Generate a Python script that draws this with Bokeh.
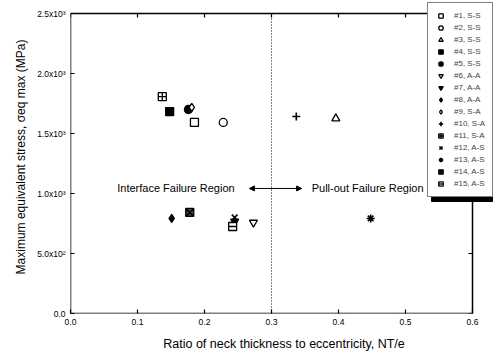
from bokeh.plotting import figure
from bokeh.models import Legend, LegendItem, FixedTicker, Range1d, Arrow, NormalHead
from bokeh.core.properties import value
from bokeh.embed import file_html
from bokeh.resources import INLINE

labels = ["#1, S-S", "#2, S-S", "#3, S-S", "#4, S-S", "#5, S-S", "#6, A-A", "#7, A-A",
          "#8, A-A", "#9, S-A", "#10, S-A", "#11, S-A", "#12, A-S", "#13, A-S",
          "#14, A-S", "#15, A-S"]
ratio = [0.185, 0.228, 0.396, 0.148, 0.176, 0.273, 0.245, 0.151, 0.181, 0.337,
         0.137, 0.245, 0.448, 0.178, 0.242]
stress = [1592, 1592, 1625, 1683, 1700, 758, 767, 792, 1717, 1642, 1808, 800, 792, 842, 725]
x_ticks = [0.0, 0.1, 0.2, 0.3, 0.4, 0.5, 0.6]
x_tick_labels = ["0.0", "0.1", "0.2", "0.3", "0.4", "0.5", "0.6"]
y_ticks = [0, 500, 1000, 1500, 2000, 2500]
y_tick_labels = ["0.0", "5.0x10²", "1.0x10³", "1.5x10³", "2.0x10³", "2.5x10³"]
boundary = 0.3

styles = [("square", "white"), ("circle", "white"), ("triangle", "white"),
          ("square", "black"), ("circle", "black"), ("inverted_triangle", "white"),
          ("inverted_triangle", "black"), ("diamond", "black"), ("diamond", "white"),
          ("cross", "white"), ("square_cross", "white"), ("x", "white"),
          ("asterisk", "white"), ("square_x", "#444444"), ("square", "white")]

FONT = "Liberation Sans"

# layout geometry (pixels)
W, H = 497, 360
LEFT, BOTTOM, TOP_AXIS_PX = 70, 47, 13
frame_w = W - LEFT                 # frame extends to the right edge (legend overhangs axes)
frame_h = H - BOTTOM               # frame extends to the top edge
x_max, y_max = x_ticks[-1], y_ticks[-1]
px_per_x = 402 / x_max             # axis box 402 px wide
px_per_y = (frame_h - TOP_AXIS_PX) / y_max

p = figure(width=W, height=H, output_backend="svg", toolbar_location=None,
           x_range=Range1d(0, frame_w / px_per_x), y_range=Range1d(0, frame_h / px_per_y),
           min_border_left=LEFT, min_border_right=0, min_border_top=0,
           min_border_bottom=BOTTOM)
p.xgrid.visible = False
p.ygrid.visible = False
p.outline_line_color = None

for ax in (p.xaxis[0], p.yaxis[0]):
    ax.major_tick_in = 4
    ax.major_tick_out = 0
    ax.minor_tick_line_color = None
    ax.axis_line_color = None
    ax.major_tick_line_width = 1.2
    ax.major_label_text_font = FONT
    ax.major_label_text_font_size = "8.5px"
    ax.major_label_text_color = "black"
    ax.axis_label_text_font = FONT
    ax.axis_label_text_font_style = "normal"
    ax.axis_label_text_color = "black"

p.xaxis.ticker = FixedTicker(ticks=x_ticks)
p.xaxis.major_label_overrides = {t: l for t, l in zip(x_ticks, x_tick_labels)}
p.yaxis.ticker = FixedTicker(ticks=y_ticks)
p.yaxis.major_label_overrides = {t: l for t, l in zip(y_ticks, y_tick_labels)}
p.xaxis.axis_label = "Ratio of neck thickness to eccentricity, NT/e"
p.yaxis.axis_label = "Maximum equivalent stress, σeq max (MPa)"
p.xaxis.axis_label_text_font_size = "12.5px"
p.yaxis.axis_label_text_font_size = "12px"
p.xaxis.axis_label_standoff = 9
p.yaxis.axis_label_standoff = 6

# box around the axes
p.segment(x0=[0, x_max, 0, 0], y0=[0, 0, 0, y_max], x1=[0, x_max, x_max, x_max],
          y1=[y_max, y_max, 0, y_max], line_color="black", line_width=1.5)
# inward ticks on right and top sides
tick_dx = 4 / px_per_x
tick_dy = 4 / px_per_y
p.segment(x0=[x_max] * len(y_ticks), y0=y_ticks, x1=[x_max - tick_dx] * len(y_ticks),
          y1=y_ticks, line_color="black", line_width=1.2)
p.segment(x0=x_ticks, y0=[y_max] * len(x_ticks), x1=x_ticks,
          y1=[y_max - tick_dy] * len(x_ticks), line_color="black", line_width=1.2)

# dotted boundary
p.segment(x0=[boundary], y0=[0], x1=[boundary], y1=[y_max], line_color="black",
          line_dash="1 2", line_width=1)

# legend shadow (drawn beneath legend)
leg_left_px, leg_bottom_px = 357, 116
leg_w_px, leg_h_px = 61, 193
shadow = 4
p.quad(left=[(leg_left_px + shadow) / px_per_x],
       right=[(leg_left_px + leg_w_px + shadow) / px_per_x],
       bottom=[(leg_bottom_px - shadow) / px_per_y],
       top=[(leg_bottom_px + leg_h_px - shadow) / px_per_y],
       fill_color="black", line_color="black")

items = []
for i, (lab, (mk, fill)) in enumerate(zip(labels, styles)):
    lw = 1.6 if mk in ("cross", "x", "asterisk") else 1.3
    r = p.scatter([ratio[i]], [stress[i]], marker=mk, size=8, fill_color=fill,
                  line_color="black", line_width=lw)
    rs = [r]
    if i == 14:
        r2 = p.scatter([ratio[i]], [stress[i]], marker="dash", size=8,
                       line_color="black", line_width=1.3)
        rs.append(r2)
    items.append(LegendItem(label=lab, renderers=rs))

legend = Legend(items=items, location=(leg_left_px, leg_bottom_px), label_text_font=FONT,
                label_text_font_size="8px", glyph_width=11, glyph_height=11,
                label_height=11, spacing=1, padding=7, margin=0,
                border_line_color="black", border_line_width=1.2,
                background_fill_alpha=1.0, label_standoff=8)
p.add_layout(legend, "center")

arrow_y = 1042
p.add_layout(Arrow(start=NormalHead(size=5, fill_color="black"),
                   end=NormalHead(size=5, fill_color="black"),
                   x_start=0.267, x_end=0.345, y_start=arrow_y, y_end=arrow_y,
                   line_width=1))
p.text([0.245], [arrow_y], text=["Interface Failure Region"], text_align="right",
       text_baseline="middle", text_font_size="11px", text_font=value(FONT))
p.text([0.360], [arrow_y], text=["Pull-out Failure Region"], text_align="left",
       text_baseline="middle", text_font_size="11px", text_font=value(FONT))

open("out.html", "w").write(file_html(p, INLINE))
